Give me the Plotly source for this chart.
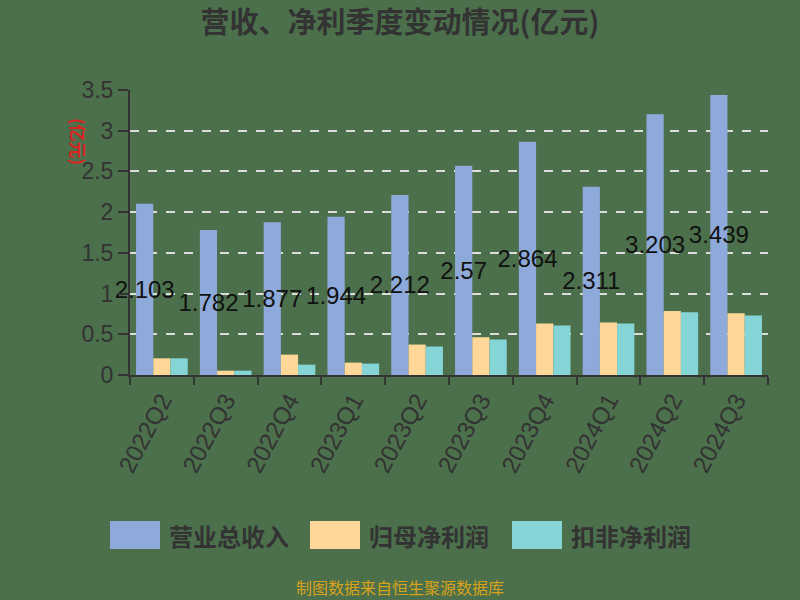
import plotly.graph_objects as go

categories = ["2022Q2", "2022Q3", "2022Q4", "2023Q1", "2023Q2", "2023Q3",
              "2023Q4", "2024Q1", "2024Q2", "2024Q3"]
revenue = [2.103, 1.782, 1.877, 1.944, 2.212, 2.57, 2.864, 2.311, 3.203, 3.439]
net_profit = [0.205, 0.053, 0.25, 0.152, 0.374, 0.464, 0.633, 0.645, 0.785, 0.757]
deducted_profit = [0.205, 0.053, 0.127, 0.14, 0.35, 0.436, 0.608, 0.633, 0.77, 0.732]
series_names = ["营业总收入", "归母净利润", "扣非净利润"]
colors = ["#8eaadb", "#ffd799", "#86d5d6"]
y_ticks = [0, 0.5, 1, 1.5, 2, 2.5, 3, 3.5]
y_tick_text = ["0", "0.5", "1", "1.5", "2", "2.5", "3", "3.5"]

BG = "#4b704b"
CJK = "Noto Sans CJK SC"

fig = go.Figure()
fig.add_trace(go.Bar(
    x=categories, y=revenue, name=series_names[0], marker_color=colors[0],
    marker_line_width=0,
    text=[f"{v:g}" for v in revenue], textposition="inside",
    insidetextanchor="middle", textangle=0, constraintext="none",
    textfont=dict(family="Liberation Sans", size=24, color="#111111"),
    cliponaxis=False,
))
fig.add_trace(go.Bar(x=categories, y=net_profit, name=series_names[1],
                     marker_color=colors[1], marker_line_width=0))
fig.add_trace(go.Bar(x=categories, y=deducted_profit, name=series_names[2],
                     marker_color=colors[2], marker_line_width=0))

fig.update_layout(
    width=800, height=600,
    paper_bgcolor=BG, plot_bgcolor=BG,
    margin=dict(l=130, r=32, t=90, b=225),
    barmode="group", bargap=0.19, bargroupgap=0,
    showlegend=False,
    uniformtext=dict(minsize=24, mode="show"),
    title=dict(text="<b>营收、净利季度变动情况(亿元)</b>", x=0.5, xanchor="center",
               y=1 - 23 / 600, yanchor="middle",
               font=dict(family=CJK, size=29, color="#333333")),
)

fig.update_xaxes(
    type="category", showline=True, linecolor="#333333", linewidth=2,
    ticks="outside", tickson="boundaries", ticklen=8, tickcolor="#333333", tickwidth=2,
    tickangle=-62, tickfont=dict(family="Liberation Sans", size=24, color="#333333"),
    showgrid=False,
)
fig.update_yaxes(
    range=[0, 3.5], tickvals=y_ticks, ticktext=y_tick_text,
    showline=True, linecolor="#333333", linewidth=2,
    ticks="outside", ticklen=10, tickcolor="#333333", tickwidth=2,
    tickfont=dict(family="Liberation Sans", size=23, color="#333333"),
    showgrid=True, gridcolor="#dddddd", gridwidth=2, griddash="dash",
    zeroline=False,
)

# y axis unit label
fig.add_annotation(text="<b>(亿元)</b>", xref="paper", yref="paper",
                   x=(64 - 130) / 638, y=(375 - 116) / 285, showarrow=False,
                   textangle=90, font=dict(family=CJK, size=17, color="#dd2222"))

# custom legend
legend_x = [110, 310, 512]
for i, name in enumerate(series_names):
    x0 = legend_x[i]
    fig.add_shape(type="rect", xref="paper", yref="paper",
                  x0=(x0 - 130) / 638, x1=(x0 + 50 - 130) / 638,
                  y0=(375 - 549) / 285, y1=(375 - 521) / 285,
                  fillcolor=colors[i], line_width=0)
    fig.add_annotation(text="<b>" + name + "</b>", xref="paper", yref="paper",
                       x=(x0 + 57 - 130) / 638, y=(375 - 535) / 285,
                       xanchor="left", yanchor="middle", showarrow=False,
                       font=dict(family=CJK, size=24, color="#333333"))

fig.add_annotation(text="制图数据来自恒生聚源数据库", xref="paper", yref="paper",
                   x=(400 - 130) / 638, y=(375 - 587) / 285, showarrow=False,
                   xanchor="center", yanchor="middle",
                   font=dict(family=CJK, size=16, color="#d9a21b"))

fig.write_html("out.html", config={"displayModeBar": False},
               post_script="document.body.style.margin='0';document.body.style.overflow='hidden';")
